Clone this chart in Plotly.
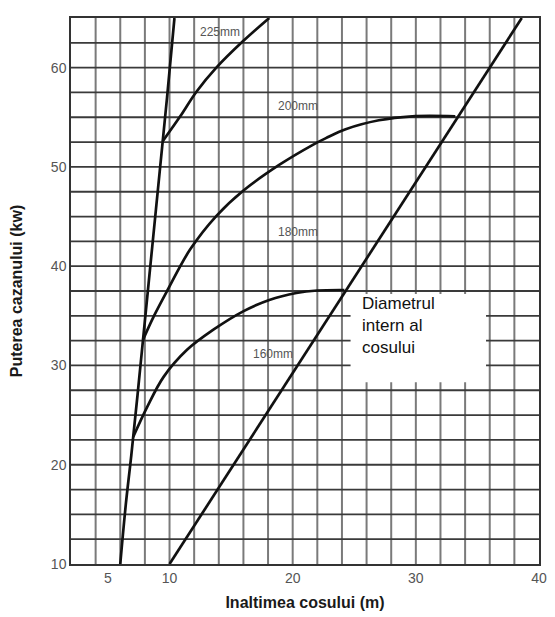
import plotly.graph_objects as go

# ---- data ----
steep_x = [6.0, 6.45, 6.9, 7.4, 8.0, 8.6, 9.2, 9.8, 10.4]
steep_y = [10, 16, 21, 27, 34.5, 42, 49.5, 57, 65]

c160_x = [7.05, 8.18, 9.52, 11.4, 13.56, 15.98, 18.1, 20.3, 22.0, 24.2]
c160_y = [22.8, 25.8, 28.85, 31.55, 33.6, 35.45, 36.6, 37.3, 37.55, 37.6]

c200_x = [7.85, 8.7, 9.8, 11.68, 13.83, 15.98, 18.9, 21.6, 22.7, 24.3, 27, 29.7, 33.2]
c200_y = [32.6, 34.9, 37.5, 41.7, 45.1, 47.6, 50.2, 52.2, 52.9, 53.8, 54.7, 55.1, 55.1]

c225_x = [9.45, 10.87, 12.2, 13.8, 16, 18.1]
c225_y = [52.6, 55.1, 57.6, 60, 62.7, 65]

diag_x = [10, 38.6]
diag_y = [10, 65]

curve_labels = ["225mm", "200mm", "180mm", "160mm"]
label_x = [14.1, 20.4, 20.4, 18.4]
label_y = [63.6, 56.1, 43.4, 31.2]

x_tickvals = [5, 10, 20, 30, 40]
y_tickvals = [10, 20, 30, 40, 50, 60]
x_grid = [4 + 2 * i for i in range(18)]       # 4..38
y_grid = [12.5 + 2.5 * i for i in range(21)]  # 12.5..62.5

box_text = "Diametrul<br>intern al<br>cosului"

# ---- figure ----
fig = go.Figure()
for xs, ys in [(steep_x, steep_y), (c160_x, c160_y), (c200_x, c200_y),
               (c225_x, c225_y), (diag_x, diag_y)]:
    fig.add_trace(go.Scatter(x=xs, y=ys, mode="lines",
                             line=dict(color="#111111", width=2.7, shape="spline", smoothing=1.0),
                             showlegend=False, hoverinfo="skip"))

shapes = []
for gx in x_grid:
    shapes.append(dict(type="line", xref="x", yref="y", x0=gx, x1=gx, y0=10, y1=65,
                       line=dict(color="#7a7a7a", width=2), layer="below"))
for gy in y_grid:
    shapes.append(dict(type="line", xref="x", yref="y", x0=2, x1=40, y0=gy, y1=gy,
                       line=dict(color="#3a3a3a", width=1.8), layer="below"))
shapes.append(dict(type="rect", xref="x", yref="y", x0=24.7, x1=35.7, y0=28.3, y1=37.2,
                   fillcolor="white", line=dict(width=0), layer="below"))
fig.update_layout(shapes=shapes)

for t, lx, ly in zip(curve_labels, label_x, label_y):
    fig.add_annotation(x=lx, y=ly, text=t, showarrow=False,
                       font=dict(family="Liberation Sans, Arial", size=12, color="#555555"))

fig.add_annotation(x=25.5, y=37.45, text=box_text, showarrow=False, xanchor="left", yanchor="top",
                   align="left", font=dict(family="Liberation Sans, Arial", size=17, color="#111111"))

# the page body adds an 8px margin, so the figure is 8px smaller and margins are shifted
fig.update_layout(
    width=547, height=609,
    margin=dict(l=62, r=13, t=8, b=50),
    paper_bgcolor="white", plot_bgcolor="white",
    font=dict(family="Liberation Sans, Arial", color="#555555"),
    xaxis=dict(range=[2, 40], tickvals=x_tickvals, showgrid=False, zeroline=False,
               showline=True, mirror=True, linecolor="#333333", linewidth=1.5,
               ticks="", tickfont=dict(size=14, color="#555555"),
               title=dict(text="<b>Inaltimea cosului (m)</b>", standoff=12,
                          font=dict(size=16, color="#1a1a1a"))),
    yaxis=dict(range=[10, 65], tickvals=y_tickvals, showgrid=False, zeroline=False,
               showline=True, mirror=True, linecolor="#333333", linewidth=1.5,
               ticks="", tickfont=dict(size=14, color="#555555"),
               title=dict(text="<b>Puterea cazanului (kw)</b>", standoff=24,
                          font=dict(size=16, color="#1a1a1a"))),
)

fig.write_html("out.html")
